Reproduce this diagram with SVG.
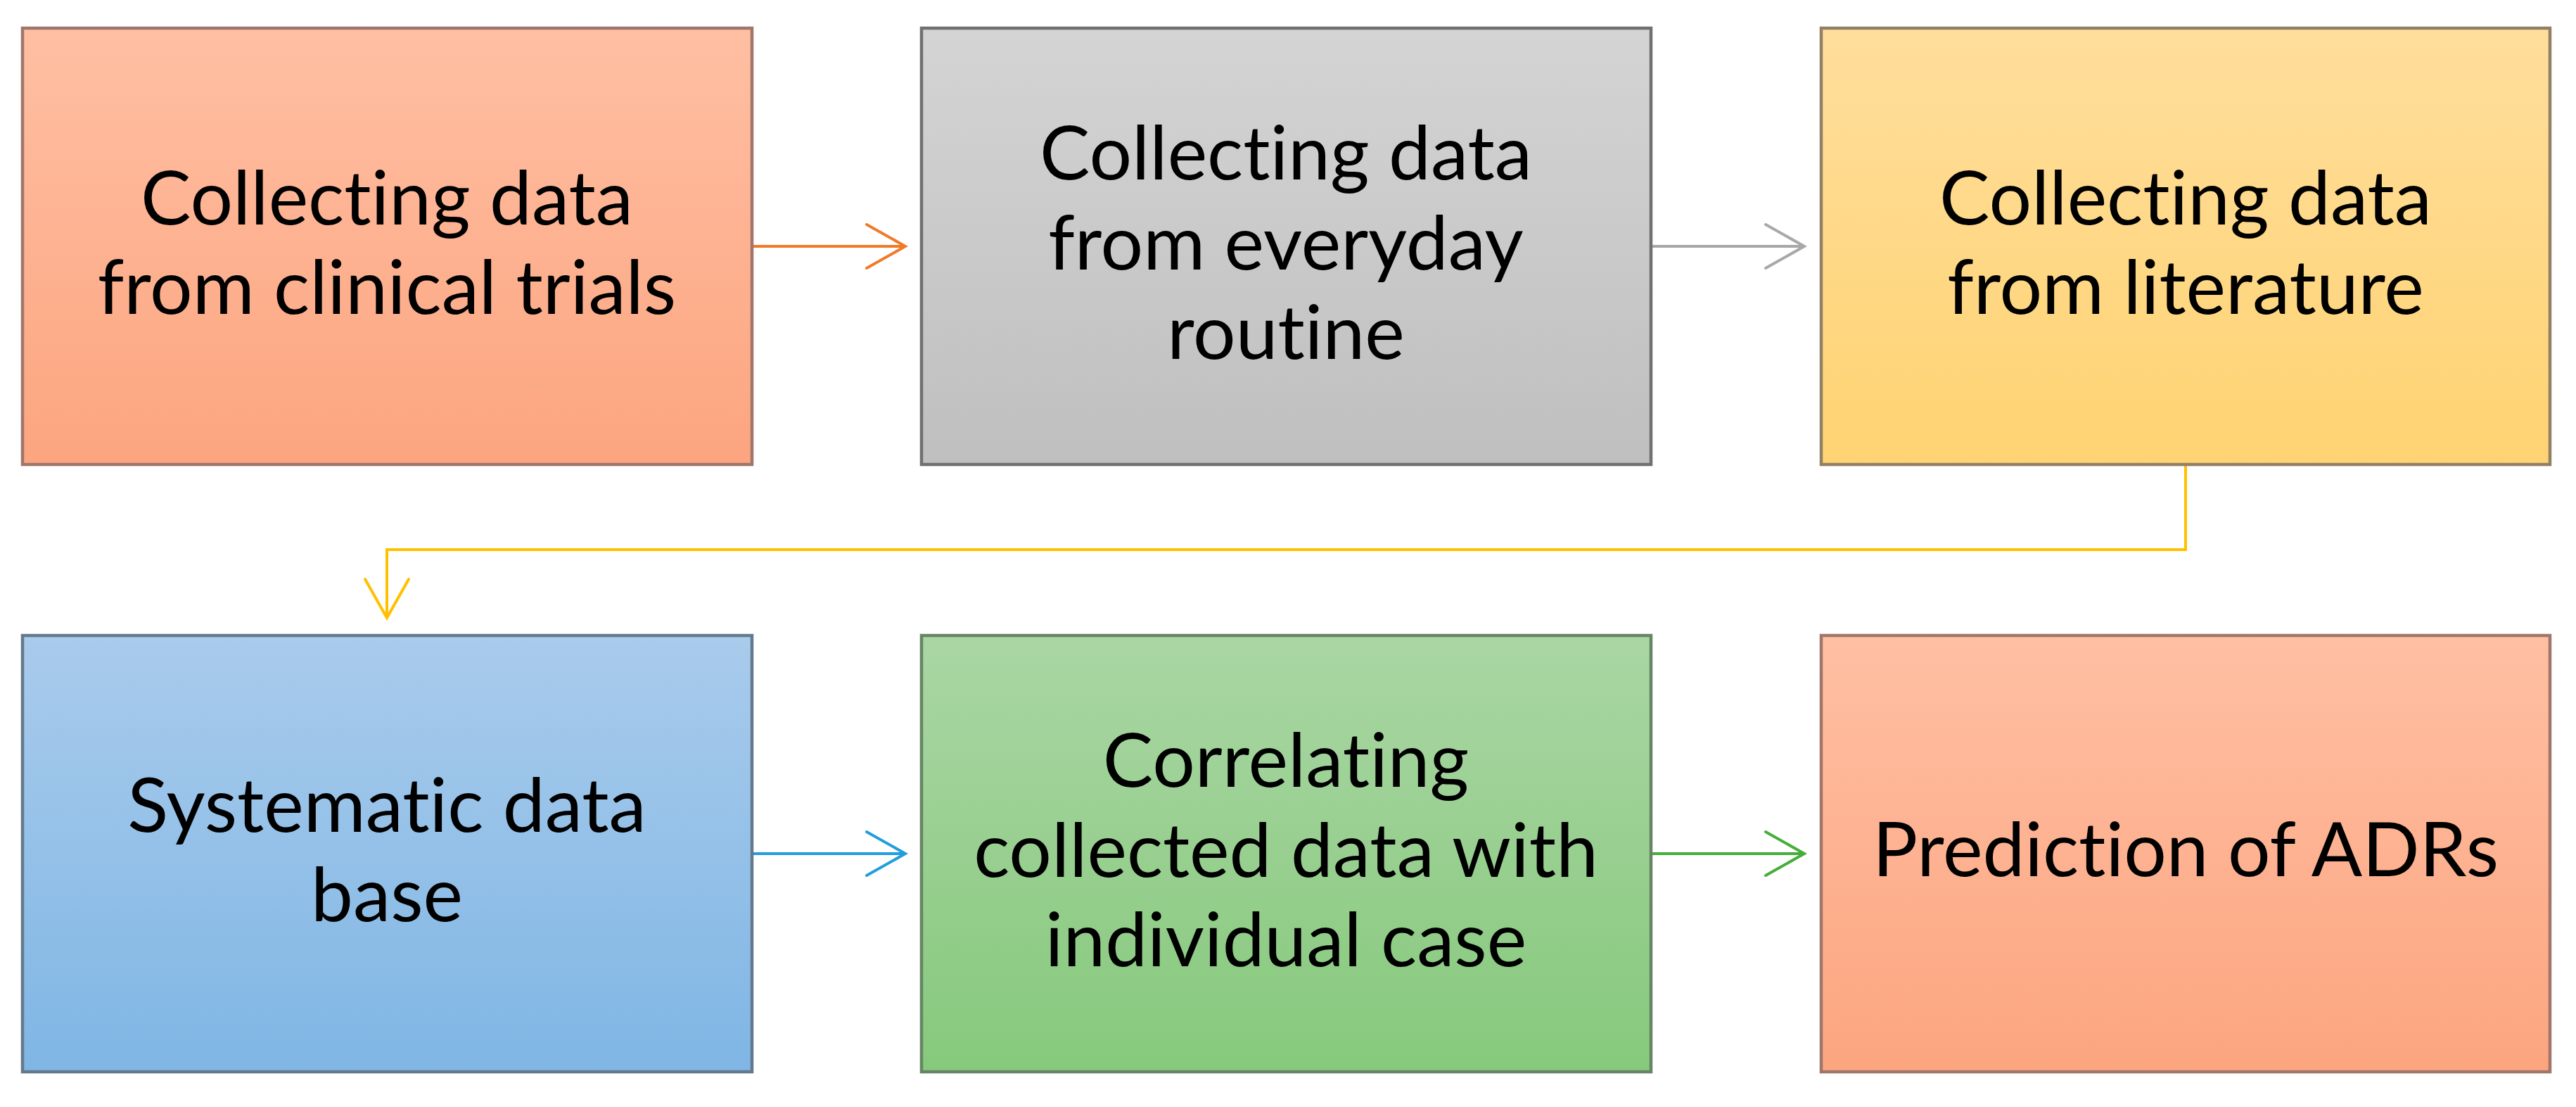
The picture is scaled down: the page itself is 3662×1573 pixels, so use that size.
<svg xmlns="http://www.w3.org/2000/svg" width="3662" height="1573" viewBox="0 0 3662 1573">
<style>
.box{stroke-width:4.5}
.lbl{font-family:Lato,"Open Sans","Liberation Sans",sans-serif;font-size:107px;fill:#000;text-anchor:middle;font-variant-ligatures:none}
.con{fill:none;stroke-width:4}
</style>
<defs>
<linearGradient id="gOrange" x1="0" y1="0" x2="0" y2="1"><stop offset="0" stop-color="#FFBFA3"/><stop offset="1" stop-color="#FCA57F"/></linearGradient>
<linearGradient id="gGray" x1="0" y1="0" x2="0" y2="1"><stop offset="0" stop-color="#D4D4D4"/><stop offset="1" stop-color="#BFBFBF"/></linearGradient>
<linearGradient id="gYellow" x1="0" y1="0" x2="0" y2="1"><stop offset="0" stop-color="#FFDE9C"/><stop offset="1" stop-color="#FFD372"/></linearGradient>
<linearGradient id="gBlue" x1="0" y1="0" x2="0" y2="1"><stop offset="0" stop-color="#A9CBEC"/><stop offset="1" stop-color="#7FB6E4"/></linearGradient>
<linearGradient id="gGreen" x1="0" y1="0" x2="0" y2="1"><stop offset="0" stop-color="#AAD6A4"/><stop offset="1" stop-color="#86C97C"/></linearGradient>
<marker id="aOrange" markerUnits="userSpaceOnUse" viewBox="-60 -36 64 72" refX="0" refY="0" markerWidth="64" markerHeight="72" orient="auto"><path d="M-55 -31 L0 0 L-55 31" fill="none" stroke="#F07A28" stroke-width="4" stroke-linecap="round"/></marker>
<marker id="aGray" markerUnits="userSpaceOnUse" viewBox="-60 -36 64 72" refX="0" refY="0" markerWidth="64" markerHeight="72" orient="auto"><path d="M-55 -31 L0 0 L-55 31" fill="none" stroke="#A8A8A8" stroke-width="4" stroke-linecap="round"/></marker>
<marker id="aYellow" markerUnits="userSpaceOnUse" viewBox="-60 -36 64 72" refX="0" refY="0" markerWidth="64" markerHeight="72" orient="auto"><path d="M-55 -31 L0 0 L-55 31" fill="none" stroke="#FFC000" stroke-width="4" stroke-linecap="round"/></marker>
<marker id="aBlue" markerUnits="userSpaceOnUse" viewBox="-60 -36 64 72" refX="0" refY="0" markerWidth="64" markerHeight="72" orient="auto"><path d="M-55 -31 L0 0 L-55 31" fill="none" stroke="#229DDD" stroke-width="4" stroke-linecap="round"/></marker>
<marker id="aGreen" markerUnits="userSpaceOnUse" viewBox="-60 -36 64 72" refX="0" refY="0" markerWidth="64" markerHeight="72" orient="auto"><path d="M-55 -31 L0 0 L-55 31" fill="none" stroke="#45AE3B" stroke-width="4" stroke-linecap="round"/></marker>
</defs>
<rect width="3662" height="1573" fill="#FFFFFF"/>
<g id="connectors">
<path class="con" d="M1071 350 H1287" stroke="#F07A28" marker-end="url(#aOrange)"/>
<path class="con" d="M2349 350 H2565" stroke="#A8A8A8" marker-end="url(#aGray)"/>
<path class="con" d="M3107 662 V781 H550 V878" stroke="#FFC000" marker-end="url(#aYellow)"/>
<path class="con" d="M1071 1213 H1287" stroke="#229DDD" marker-end="url(#aBlue)"/>
<path class="con" d="M2349 1213 H2565" stroke="#45AE3B" marker-end="url(#aGreen)"/>
</g>
<g id="node1">
<rect class="box" x="32" y="40" width="1037" height="620" fill="url(#gOrange)" stroke="#A0766A"/>
<text class="lbl" x="550" y="319">Collecting data</text>
<text class="lbl" x="550" y="446">from clinical trials</text>
</g>
<g id="node2">
<rect class="box" x="1310" y="40" width="1037" height="620" fill="url(#gGray)" stroke="#707070"/>
<text class="lbl" x="1828" y="255">Collecting data</text>
<text class="lbl" x="1828" y="383">from everyday</text>
<text class="lbl" x="1828" y="510">routine</text>
</g>
<g id="node3">
<rect class="box" x="2589" y="40" width="1036" height="620" fill="url(#gYellow)" stroke="#928066"/>
<text class="lbl" x="3107" y="319">Collecting data</text>
<text class="lbl" x="3107" y="446">from literature</text>
</g>
<g id="node4">
<rect class="box" x="32" y="903" width="1037" height="620" fill="url(#gBlue)" stroke="#66798C"/>
<text class="lbl" x="550" y="1182">Systematic data</text>
<text class="lbl" x="550" y="1309">base</text>
</g>
<g id="node5">
<rect class="box" x="1310" y="903" width="1037" height="620" fill="url(#gGreen)" stroke="#678464"/>
<text class="lbl" x="1828" y="1118">Correlating</text>
<text class="lbl" x="1828" y="1246">collected data with</text>
<text class="lbl" x="1828" y="1373">individual case</text>
</g>
<g id="node6">
<rect class="box" x="2589" y="903" width="1036" height="620" fill="url(#gOrange)" stroke="#A0766A"/>
<text class="lbl" x="3107" y="1245">Prediction of ADRs</text>
</g>
</svg>
